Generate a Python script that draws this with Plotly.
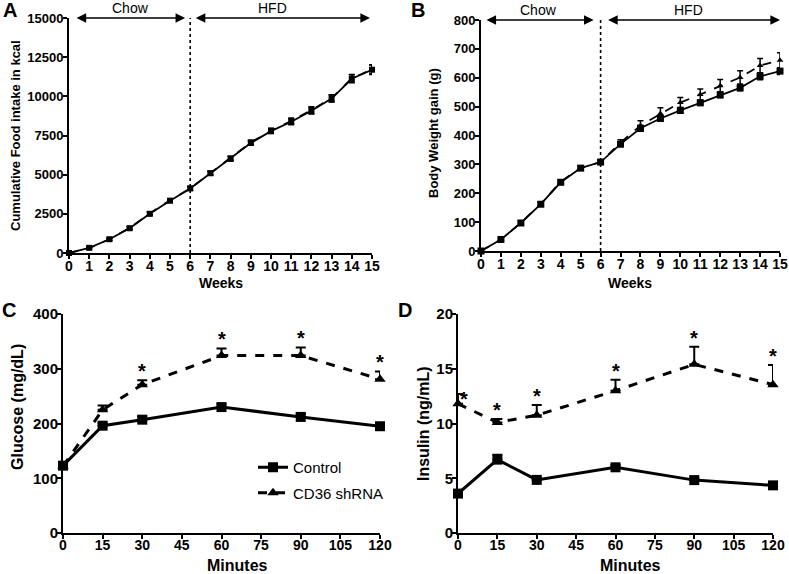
import plotly.graph_objects as go

# ---------------- data ----------------
weeks = list(range(16))
week_ticks = list(range(16))

food_ctrl = [0, 330, 880, 1580, 2500, 3340, 4120, 5090, 6020, 7020, 7780, 8380, 9080, 9860, 11120, 11700]
food_cd36 = [0, 320, 870, 1600, 2530, 3360, 4120, 5100, 6040, 7060, 7800, 8420, 9120, 9880, 11150, 11720]
food_err_ctrl = [20, 50, 70, 90, 100, 110, 120, 120, 140, 150, 160, 190, 210, 220, 250, 300]
food_err_cd36 = [20, 50, 70, 90, 100, 110, 120, 120, 140, 150, 160, 190, 210, 220, 250, 300]
food_ticks = [0, 2500, 5000, 7500, 10000, 12500, 15000]

bw_ctrl = [0, 40, 97, 162, 238, 287, 308, 370, 425, 459, 487, 513, 541, 565, 605, 623]
bw_cd36 = [0, 40, 98, 163, 240, 288, 308, 375, 435, 476, 514, 542, 572, 601, 642, 661]
bw_err_ctrl = [2, 4, 5, 6, 6, 6, 6, 8, 10, 10, 10, 8, 10, 10, 12, 12]
bw_err_cd36 = [2, 4, 5, 6, 6, 6, 6, 10, 16, 20, 18, 19, 22, 23, 25, 26]
bw_ticks = [0, 100, 200, 300, 400, 500, 600, 700, 800]

minutes = [0, 15, 30, 60, 90, 120]
minute_ticks = [0, 15, 30, 45, 60, 75, 90, 105, 120]

glu_ctrl = [123, 196, 207, 230, 212, 195]
glu_cd36 = [122, 225, 271, 324, 324, 281]
glu_err_ctrl = [4, 5, 6, 5, 6, 4]
glu_err_cd36 = [4, 8, 8, 13, 15, 14]
glu_sig = [False, False, True, True, True, True]
glu_ticks = [0, 100, 200, 300, 400]

ins_ctrl = [3.6, 6.7, 4.85, 6.0, 4.83, 4.35]
ins_cd36 = [11.8, 10.1, 10.75, 13.0, 15.4, 13.55]
ins_err_ctrl = [0.2, 0.45, 0.2, 0.2, 0.2, 0.2]
ins_err_cd36 = [0.9, 0.3, 0.95, 1.0, 1.6, 1.8]
ins_sig = [True, True, True, True, True, True]
ins_ticks = [0, 5, 10, 15, 20]

# ---------------- figure ----------------
W, H = 789, 574
FONT = "Liberation Sans, Arial, sans-serif"
BLACK = "#000000"

fig = go.Figure()


def px_x(p):
    return p / W


def px_y(p):
    return 1 - p / H


doms = {
    "A": dict(x=[px_x(69), px_x(372)], y=[px_y(253), px_y(18)]),
    "B": dict(x=[px_x(481), px_x(780)], y=[px_y(251), px_y(20)]),
    "C": dict(x=[px_x(63), px_x(380)], y=[px_y(533), px_y(314)]),
    "D": dict(x=[px_x(458), px_x(773)], y=[px_y(533), px_y(314)]),
}
axn = {"A": ("x", "y"), "B": ("x2", "y2"), "C": ("x3", "y3"), "D": ("x4", "y4")}


def add_series(panel, x, y, err, dashed, symbol, size, lw, upper_only, name=None, showlegend=False):
    xa, ya = axn[panel]
    if upper_only:
        ey = dict(type="data", array=err, arrayminus=[0] * len(err), symmetric=False,
                  color=BLACK, thickness=2, width=5)
    else:
        ey = dict(type="data", array=err, visible=True, color=BLACK, thickness=1.5, width=3)
    fig.add_trace(go.Scatter(
        x=x, y=y, xaxis=xa, yaxis=ya, mode="lines+markers",
        line=dict(color=BLACK, width=lw, dash="dash" if dashed else "solid"),
        marker=dict(symbol=symbol, size=size, color=BLACK),
        error_y=ey, cliponaxis=False, name=name, showlegend=showlegend,
        legendgroup=name,
    ))


add_series("A", weeks, food_cd36, food_err_cd36, True, "triangle-up", 5, 1.8, False)
add_series("A", weeks, food_ctrl, food_err_ctrl, False, "square", 6, 1.8, False)
add_series("B", weeks, bw_cd36, bw_err_cd36, True, "triangle-up", 6, 1.8, False)
add_series("B", weeks, bw_ctrl, bw_err_ctrl, False, "square", 7, 1.8, False)
add_series("C", minutes, glu_ctrl, glu_err_ctrl, False, "square", 10, 3, True, "Control", True)
add_series("C", minutes, glu_cd36, glu_err_cd36, True, "triangle-up", 10, 3, True, "CD36 shRNA", True)
add_series("D", minutes, ins_ctrl, ins_err_ctrl, False, "square", 10, 3, True)
add_series("D", minutes, ins_cd36, ins_err_cd36, True, "triangle-up", 10, 3, True)

axis_common = dict(
    showline=True, linecolor=BLACK, linewidth=2, ticks="outside", ticklen=4,
    tickwidth=1.5, tickcolor=BLACK, showgrid=False, zeroline=False,
    automargin=False, fixedrange=True, ticklabeloverflow="allow",
)


def axis(panel, which, rng, tickvals, fs, standoff):
    d = dict(axis_common)
    idx = 0 if which == "x" else 1
    other = axn[panel][1 - idx]
    d.update(domain=doms[panel][which], range=rng, tickmode="array", tickvals=tickvals,
             ticktext=["<b>%d</b>" % v for v in tickvals],
             tickfont=dict(family=FONT, size=fs, color=BLACK),
             anchor=other, ticklabelstandoff=standoff)
    return d


fig.update_layout(
    width=W, height=H, margin=dict(l=0, r=0, t=0, b=0),
    paper_bgcolor="white", plot_bgcolor="white",
    font=dict(family=FONT, color=BLACK),
    xaxis=axis("A", "x", [0, 15], week_ticks, 14, -5),
    yaxis=axis("A", "y", [0, 15000], food_ticks, 13, -3),
    xaxis2=axis("B", "x", [0, 15], week_ticks, 14, -5),
    yaxis2=axis("B", "y", [0, 800], bw_ticks, 13, -3),
    xaxis3=axis("C", "x", [0, 120], minute_ticks, 14, -6),
    yaxis3=axis("C", "y", [0, 400], glu_ticks, 15, -4),
    xaxis4=axis("D", "x", [0, 120], minute_ticks, 14, -6),
    yaxis4=axis("D", "y", [0, 20], ins_ticks, 15, -4),
    legend=dict(x=px_x(253), y=px_y(451), xanchor="left", yanchor="top",
                font=dict(family=FONT, size=15, color=BLACK),
                bgcolor="rgba(0,0,0,0)", tracegroupgap=3),
    showlegend=True,
)

annotations = []
shapes = []


def text_ann(x, y, text, size, bold=True, angle=0, xref="paper", yref="paper",
             xanchor="center", yanchor="middle", **kw):
    a = dict(x=x, y=y, xref=xref, yref=yref, text=text, showarrow=False, textangle=angle,
             xanchor=xanchor, yanchor=yanchor,
             font=dict(family=FONT, size=size, color=BLACK, weight="bold" if bold else "normal"))
    a.update(kw)
    annotations.append(a)


# panel letters
text_ann(px_x(10), px_y(10), "A", 20)
text_ann(px_x(418), px_y(10), "B", 20)
text_ann(px_x(9), px_y(310), "C", 20)
text_ann(px_x(405), px_y(310), "D", 20)

# axis titles
text_ann(px_x(15), px_y(136), "Cumulative Food intake in kcal", 13, angle=-90)
text_ann(px_x(221), px_y(283), "Weeks", 14)
text_ann(px_x(433), px_y(133), "Body Weight gain (g)", 13, angle=-90)
text_ann(px_x(630), px_y(283), "Weeks", 14)
text_ann(px_x(18), px_y(407), "Glucose (mg/dL)", 16, angle=-90)
text_ann(px_x(237), px_y(565), "Minutes", 16)
text_ann(px_x(423), px_y(424), "Insulin (ng/mL)", 16, angle=-90)
text_ann(px_x(630), px_y(565), "Minutes", 16)


# diet arrows and divider
def diet(panel, top, chow, hfd, chow_tx, hfd_tx):
    xa, ya = axn[panel]
    for (x0, x1) in (chow, hfd):
        annotations.append(dict(
            x=x1, y=top, ax=x0, ay=top, xref=xa, yref=ya, axref=xa, ayref=ya,
            text="", showarrow=True, arrowhead=2, startarrowhead=2, arrowside="end+start",
            arrowsize=1.2, startarrowsize=1.2, arrowwidth=1.6, arrowcolor=BLACK,
            standoff=0, startstandoff=0))
    text_ann(chow_tx, top, "Chow", 14, bold=False, xref=xa, yref=ya, yanchor="bottom", yshift=0)
    text_ann(hfd_tx, top, "HFD", 14, bold=False, xref=xa, yref=ya, yanchor="bottom", yshift=0)
    shapes.append(dict(type="line", xref=xa, yref=ya, x0=6, x1=6, y0=0, y1=top,
                       line=dict(color=BLACK, width=1.6, dash="dot")))


diet("A", 15000, (0.3, 5.75), (6.2, 14.9), 3.05, 10.05)
diet("B", 800, (0.2, 5.65), (6.3, 15), 2.9, 10.4)


# significance stars
def stars(panel, x, y, err, sig, dx0=0):
    xa, ya = axn[panel]
    for i, (xi, yi, ei, s) in enumerate(zip(x, y, err, sig)):
        if not s:
            continue
        if i == 0 and dx0:
            text_ann(xi, yi + ei, "*", 20, xref=xa, yref=ya, xshift=dx0, yshift=-5)
        else:
            text_ann(xi, yi + ei, "*", 20, xref=xa, yref=ya, yanchor="bottom", yshift=-4)


stars("C", minutes, glu_cd36, glu_err_cd36, glu_sig)
stars("D", minutes, ins_cd36, ins_err_cd36, ins_sig, dx0=6)

fig.update_layout(annotations=annotations, shapes=shapes)

fig.write_html(
    "out.html",
    config={"displayModeBar": False},
    post_script="document.body.style.margin='0px';document.body.style.overflow='hidden';",
)
